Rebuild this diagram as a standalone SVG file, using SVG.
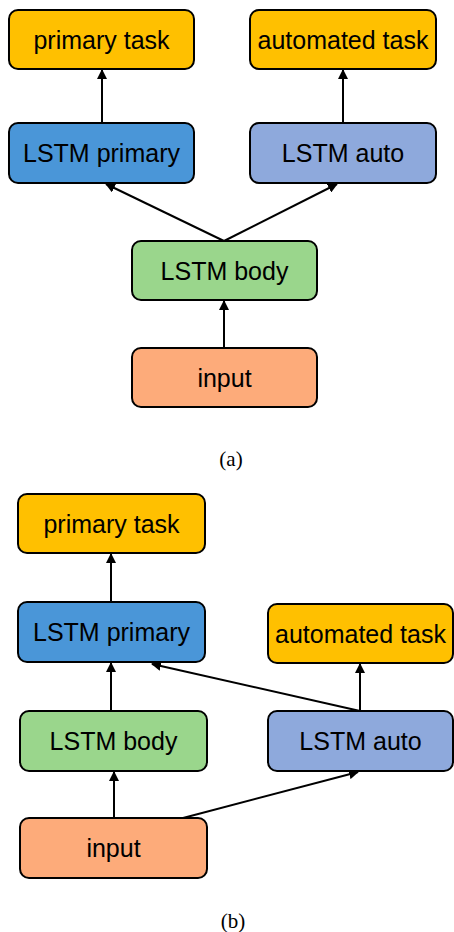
<svg xmlns="http://www.w3.org/2000/svg" width="454" height="932" viewBox="0 0 454 932">
<style>
.box{stroke:#000;stroke-width:2}
.lbl{font-family:"Liberation Sans",Arial,sans-serif;font-size:25px;text-anchor:middle;fill:#000}
.cap{font-family:"Liberation Serif","Times New Roman",serif;font-size:21px;text-anchor:middle;fill:#000}
.task{fill:#FFC000}
.prim{fill:#4A96D8}
.auto{fill:#8EA9DC}
.body{fill:#9AD68C}
.inp{fill:#FDAB7A}
.edge{stroke:#000;stroke-width:2;fill:none;marker-end:url(#ah)}
</style>
<defs>
<marker id="ah" markerWidth="10" markerHeight="10" refX="9" refY="5" orient="auto" markerUnits="userSpaceOnUse">
<path d="M0,0 L10,5 L0,10 Z" fill="#000"/>
</marker>
</defs>
<rect width="454" height="932" fill="#fff"/>
<g id="connectors">
<line class="edge" x1="102" y1="123" x2="102" y2="70"/>
<line class="edge" x1="343" y1="123" x2="343" y2="70"/>
<line class="edge" x1="224" y1="241" x2="106" y2="184"/>
<line class="edge" x1="224" y1="241" x2="337" y2="184"/>
<line class="edge" x1="224" y1="348" x2="224" y2="301"/>
<line class="edge" x1="111" y1="602" x2="111" y2="554"/>
<line class="edge" x1="111" y1="711" x2="111" y2="663"/>
<line class="edge" x1="114" y1="818" x2="114" y2="772"/>
<line class="edge" x1="360" y1="711" x2="152" y2="664"/>
<line class="edge" x1="360" y1="711" x2="360" y2="664"/>
<line class="edge" x1="183" y1="818" x2="358" y2="772"/>
</g>
<g id="a-primary-task"><rect class="box task" x="9" y="10" width="185" height="59" rx="9"/><text class="lbl" x="101.5" y="48.5">primary task</text></g>
<g id="a-automated-task"><rect class="box task" x="250" y="10" width="186" height="59" rx="9"/><text class="lbl" x="343" y="48.5">automated task</text></g>
<g id="a-lstm-primary"><rect class="box prim" x="9" y="123" width="185" height="60" rx="9"/><text class="lbl" x="101.5" y="162">LSTM primary</text></g>
<g id="a-lstm-auto"><rect class="box auto" x="250" y="123" width="186" height="60" rx="9"/><text class="lbl" x="343" y="162">LSTM auto</text></g>
<g id="a-lstm-body"><rect class="box body" x="132" y="241" width="185" height="59" rx="9"/><text class="lbl" x="224.5" y="279.5">LSTM body</text></g>
<g id="a-input"><rect class="box inp" x="132" y="348" width="185" height="59" rx="9"/><text class="lbl" x="224.5" y="386.5">input</text></g>
<text class="cap" x="231" y="466">(a)</text>
<g id="b-primary-task"><rect class="box task" x="18" y="494" width="187" height="59" rx="9"/><text class="lbl" x="111.5" y="532.5">primary task</text></g>
<g id="b-lstm-primary"><rect class="box prim" x="18" y="602" width="187" height="60" rx="9"/><text class="lbl" x="111.5" y="641">LSTM primary</text></g>
<g id="b-automated-task"><rect class="box task" x="268" y="604" width="185" height="59" rx="9"/><text class="lbl" x="360.5" y="642.5">automated task</text></g>
<g id="b-lstm-body"><rect class="box body" x="20" y="711" width="187" height="60" rx="9"/><text class="lbl" x="113.5" y="750">LSTM body</text></g>
<g id="b-lstm-auto"><rect class="box auto" x="268" y="711" width="185" height="60" rx="9"/><text class="lbl" x="360.5" y="750">LSTM auto</text></g>
<g id="b-input"><rect class="box inp" x="20" y="818" width="187" height="60" rx="9"/><text class="lbl" x="113.5" y="857">input</text></g>
<text class="cap" x="233" y="928">(b)</text>
</svg>
